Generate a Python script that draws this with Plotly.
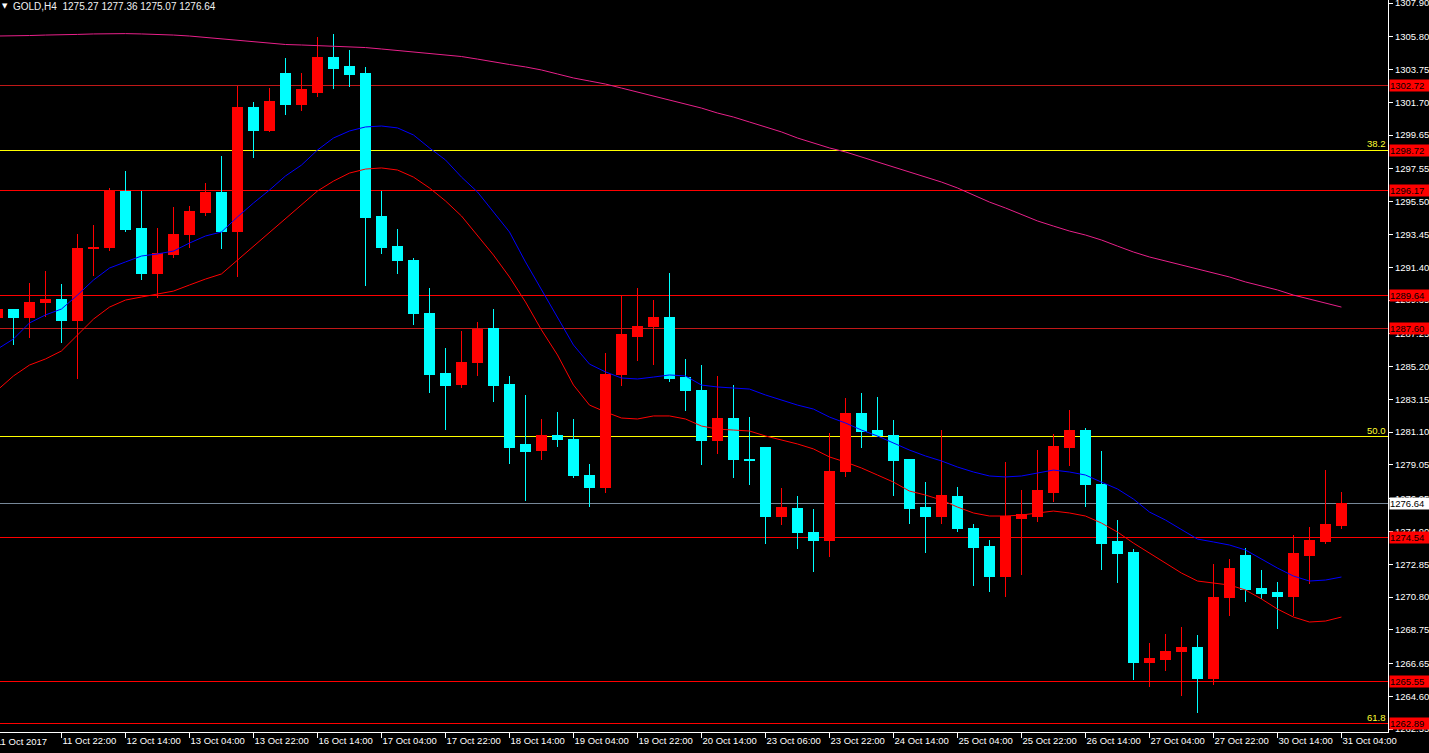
import plotly.graph_objects as go

# ---------------- data ----------------
candle_idx = list(range(85))
opens = [1288.24, 1288.73, 1288.24, 1289.18, 1289.41, 1288.06, 1292.54, 1292.66, 1296.16, 1293.79,
         1290.98, 1292.17, 1293.42, 1294.79, 1296.04, 1293.66, 1301.40, 1299.91, 1303.47, 1301.59,
         1302.34, 1304.47, 1303.91, 1303.47, 1294.54, 1292.72, 1291.85, 1288.54, 1284.79, 1284.10,
         1285.42, 1287.60, 1284.10, 1280.30, 1279.98, 1280.86, 1280.67, 1278.42, 1277.67, 1284.67,
         1287.10, 1287.67, 1288.23, 1284.54, 1283.73, 1280.55, 1281.92, 1279.42, 1280.17, 1275.86,
         1276.36, 1274.86, 1274.36, 1278.61, 1282.29, 1281.23, 1280.92, 1279.36, 1276.42, 1275.80,
         1277.11, 1275.11, 1273.98, 1272.11, 1275.73, 1275.86, 1277.36, 1280.17, 1281.23, 1277.86,
         1274.24, 1273.61, 1266.74, 1266.87, 1267.37, 1267.62, 1265.74, 1270.74, 1273.42, 1271.36,
         1271.11, 1270.86, 1273.42, 1274.24, 1275.27]
highs = [1289.04, 1288.79, 1290.41, 1291.16, 1290.35, 1293.48, 1294.04, 1296.35, 1297.40, 1296.16,
         1293.85, 1295.16, 1295.23, 1296.66, 1298.35, 1302.72, 1301.72, 1302.59, 1304.47, 1303.53,
         1305.78, 1305.97, 1304.97, 1303.91, 1296.16, 1293.79, 1291.98, 1290.10, 1286.35, 1287.42,
         1287.98, 1288.79, 1284.60, 1283.42, 1281.92, 1282.36, 1281.92, 1279.11, 1286.04, 1289.60,
         1290.10, 1289.35, 1291.04, 1285.67, 1285.29, 1284.60, 1284.04, 1282.04, 1280.17, 1277.61,
         1277.11, 1276.30, 1281.04, 1283.23, 1283.54, 1283.29, 1281.86, 1279.42, 1277.98, 1281.23,
         1277.67, 1275.36, 1274.36, 1279.23, 1277.48, 1279.98, 1280.98, 1282.48, 1281.36, 1279.92,
         1275.61, 1273.80, 1267.93, 1268.49, 1268.93, 1268.43, 1272.86, 1273.17, 1273.86, 1272.49,
         1271.74, 1274.67, 1275.17, 1278.73, 1277.36]
lows = [1287.98, 1286.54, 1287.00, 1288.31, 1286.68, 1284.43, 1290.85, 1292.41, 1293.60, 1290.60,
        1289.48, 1291.98, 1292.60, 1294.60, 1292.54, 1290.79, 1298.22, 1299.85, 1300.91, 1301.16,
        1302.03, 1302.53, 1302.66, 1290.23, 1292.23, 1290.98, 1287.79, 1283.54, 1281.23, 1283.85,
        1284.60, 1282.98, 1279.11, 1276.80, 1279.36, 1280.17, 1278.23, 1276.42, 1277.30, 1283.98,
        1285.54, 1285.29, 1284.23, 1282.42, 1279.05, 1279.73, 1278.23, 1277.80, 1274.11, 1275.30,
        1273.80, 1272.36, 1273.30, 1278.30, 1280.11, 1280.80, 1277.11, 1275.36, 1273.55, 1275.36,
        1274.86, 1271.49, 1271.11, 1270.80, 1272.17, 1275.49, 1276.73, 1278.98, 1276.42, 1272.49,
        1271.68, 1265.62, 1265.18, 1266.18, 1264.62, 1263.56, 1265.31, 1269.62, 1270.49, 1270.68,
        1268.80, 1269.62, 1271.61, 1274.11, 1275.07]
closes = [1288.73, 1288.24, 1289.22, 1289.41, 1288.06, 1292.54, 1292.66, 1296.22, 1293.73, 1290.98,
          1292.23, 1293.42, 1294.91, 1296.04, 1293.66, 1301.40, 1299.91, 1301.78, 1301.59, 1302.47,
          1304.47, 1303.84, 1303.41, 1294.48, 1292.66, 1291.79, 1288.48, 1284.67, 1284.04, 1285.48,
          1287.54, 1284.04, 1280.17, 1279.92, 1280.86, 1280.61, 1278.36, 1277.67, 1284.73, 1287.17,
          1287.67, 1288.29, 1284.48, 1283.67, 1280.55, 1281.92, 1279.36, 1279.30, 1275.86, 1276.42,
          1274.80, 1274.30, 1278.67, 1282.29, 1281.11, 1280.92, 1279.30, 1276.36, 1275.80, 1277.17,
          1275.05, 1273.92, 1272.11, 1275.86, 1275.98, 1277.48, 1280.23, 1281.23, 1277.80, 1274.17,
          1273.55, 1266.74, 1266.93, 1267.37, 1267.62, 1265.74, 1270.80, 1272.61, 1271.30, 1271.05,
          1270.86, 1273.49, 1274.30, 1275.36, 1276.64]

ma_blue = [1286.29, 1286.92, 1287.92, 1288.42, 1288.79, 1289.66, 1290.60, 1291.35, 1291.73, 1292.10,
           1292.23, 1292.41, 1292.91, 1293.35, 1293.60, 1294.54, 1295.41, 1296.22, 1297.10, 1297.78,
           1298.72, 1299.47, 1299.91, 1300.16, 1300.22, 1300.10, 1299.66, 1298.85, 1298.10, 1297.03,
           1296.10, 1294.85, 1293.60, 1291.73, 1289.98, 1288.23, 1286.54, 1285.35, 1284.86, 1284.48,
           1284.42, 1284.54, 1284.67, 1284.61, 1284.04, 1283.92, 1283.86, 1283.79, 1283.42, 1283.11,
           1282.79, 1282.54, 1282.04, 1281.67, 1281.23, 1280.86, 1280.42, 1279.98, 1279.61, 1279.30,
           1278.92, 1278.61, 1278.36, 1278.30, 1278.36, 1278.55, 1278.73, 1278.61, 1278.42, 1277.98,
           1277.55, 1276.92, 1276.11, 1275.61, 1274.99, 1274.42, 1274.24, 1274.05, 1273.74, 1273.17,
           1272.61, 1272.11, 1271.80, 1271.86, 1272.05]
ma_red = [1283.73, 1284.61, 1285.29, 1285.67, 1286.17, 1287.17, 1288.16, 1288.91, 1289.35, 1289.54,
          1289.73, 1289.91, 1290.29, 1290.66, 1290.98, 1291.85, 1292.66, 1293.54, 1294.41, 1295.29,
          1296.16, 1296.78, 1297.28, 1297.53, 1297.60, 1297.47, 1297.03, 1296.35, 1295.54, 1294.60,
          1293.41, 1292.16, 1290.79, 1289.23, 1287.48, 1285.92, 1284.04, 1282.79, 1282.36, 1281.98,
          1281.92, 1282.11, 1282.11, 1281.92, 1281.48, 1281.29, 1281.23, 1281.17, 1280.86, 1280.61,
          1280.36, 1280.05, 1279.55, 1279.23, 1278.86, 1278.42, 1277.98, 1277.42, 1277.17, 1276.86,
          1276.42, 1276.05, 1275.86, 1275.86, 1275.92, 1276.05, 1276.17, 1276.05, 1275.86, 1275.42,
          1274.86, 1274.17, 1273.55, 1272.93, 1272.30, 1271.80, 1271.68, 1271.55, 1271.24, 1270.68,
          1270.05, 1269.55, 1269.24, 1269.30, 1269.55]
ma_pink = [1305.84, 1305.84, 1305.87, 1305.90, 1305.90, 1305.94, 1305.97, 1305.99, 1305.99, 1305.97,
           1305.95, 1305.90, 1305.84, 1305.75, 1305.65, 1305.59, 1305.47, 1305.40, 1305.31, 1305.28,
           1305.24, 1305.22, 1305.17, 1305.12, 1305.03, 1304.94, 1304.84, 1304.78, 1304.69, 1304.56,
           1304.40, 1304.22, 1304.06, 1303.91, 1303.72, 1303.47, 1303.22, 1303.03, 1302.84, 1302.59,
           1302.34, 1302.09, 1301.84, 1301.59, 1301.34, 1301.03, 1300.78, 1300.47, 1300.16, 1299.85,
           1299.47, 1299.16, 1298.85, 1298.60, 1298.28, 1297.97, 1297.66, 1297.35, 1297.03, 1296.72,
           1296.35, 1295.91, 1295.47, 1295.10, 1294.72, 1294.29, 1293.97, 1293.66, 1293.41, 1293.10,
           1292.72, 1292.35, 1292.04, 1291.79, 1291.54, 1291.29, 1291.04, 1290.79, 1290.48, 1290.23,
           1289.98, 1289.66, 1289.41, 1289.16, 1288.91]

first_label = "11 Oct 2017"
time_tick_idx = list(range(4, 85, 4))
time_tick_text = ["11 Oct 22:00", "12 Oct 14:00", "13 Oct 04:00", "13 Oct 22:00", "16 Oct 14:00",
                  "17 Oct 04:00", "17 Oct 22:00", "18 Oct 14:00", "19 Oct 04:00", "19 Oct 22:00",
                  "20 Oct 14:00", "23 Oct 06:00", "23 Oct 22:00", "24 Oct 14:00", "25 Oct 04:00",
                  "25 Oct 22:00", "26 Oct 14:00", "27 Oct 04:00", "27 Oct 22:00", "30 Oct 14:00",
                  "31 Oct 04:00"]
price_ticks = [1307.90, 1305.80, 1303.75, 1301.70, 1299.65, 1297.55, 1295.50, 1293.45, 1291.40,
               1289.35, 1287.25, 1285.20, 1283.15, 1281.10, 1279.05, 1276.95, 1274.90, 1272.85,
               1270.80, 1268.75, 1266.65, 1264.60, 1262.55]

bright_red_levels = [1296.17, 1289.64, 1274.54, 1265.55, 1262.89]
dim_red_levels = [1302.72, 1287.60]
boxed_levels = [1302.72, 1298.72, 1296.17, 1289.64, 1287.60, 1274.54, 1265.55, 1262.89]
fib_levels = [1298.72, 1280.80, 1262.89]
fib_names = ["38.2", "50.0", "61.8"]
yellow_levels = [1298.72, 1280.80]
last_price = 1276.64
title_text = "GOLD,H4  1275.27 1277.36 1275.07 1276.64"

# ---------------- styling ----------------
FONT = "Liberation Sans"
FS = 9.5
CYAN = "#00ffff"
RED = "#ff0000"

fig = go.Figure()

fig.add_trace(go.Scatter(x=candle_idx, y=ma_pink, mode="lines",
                         line=dict(color="#e8208a", width=1), hoverinfo="skip"))
fig.add_trace(go.Scatter(x=candle_idx, y=ma_blue, mode="lines",
                         line=dict(color="#0000ff", width=1), hoverinfo="skip"))
fig.add_trace(go.Scatter(x=candle_idx, y=ma_red, mode="lines",
                         line=dict(color="#ff0000", width=1), hoverinfo="skip"))

fig.add_trace(go.Candlestick(
    x=candle_idx, open=opens, high=highs, low=lows, close=closes,
    increasing=dict(line=dict(color=RED, width=1), fillcolor=RED),
    decreasing=dict(line=dict(color=CYAN, width=1), fillcolor=CYAN),
    whiskerwidth=0, hoverinfo="skip"))

shapes = []
for lv in dim_red_levels:
    shapes.append(dict(type="line", xref="paper", x0=0, x1=1, yref="y", y0=lv, y1=lv,
                       line=dict(color="#c01818", width=1), layer="below"))
for lv in bright_red_levels:
    shapes.append(dict(type="line", xref="paper", x0=0, x1=1, yref="y", y0=lv, y1=lv,
                       line=dict(color=RED, width=1), layer="below"))
for lv in yellow_levels:
    shapes.append(dict(type="line", xref="paper", x0=0, x1=1, yref="y", y0=lv, y1=lv,
                       line=dict(color="#ffff00", width=1), layer="below"))
shapes.append(dict(type="line", xref="paper", x0=0, x1=1, yref="y", y0=last_price, y1=last_price,
                   line=dict(color="#778899", width=1), layer="below"))

annotations = []
for lv in boxed_levels:
    annotations.append(dict(x=1, xref="paper", xanchor="left", xshift=1, y=lv, yref="y",
                            yanchor="middle", text=f"{lv:.2f}", showarrow=False,
                            font=dict(family=FONT, size=FS, color="black"),
                            bgcolor=RED, borderpad=0, width=42, align="left"))
annotations.append(dict(x=1, xref="paper", xanchor="left", xshift=1, y=last_price, yref="y",
                        yanchor="middle", text=f"{last_price:.2f}", showarrow=False,
                        font=dict(family=FONT, size=FS, color="black"),
                        bgcolor="white", borderpad=0, width=42, align="left"))
for lv, nm in zip(fib_levels, fib_names):
    annotations.append(dict(x=1, xref="paper", xanchor="right", xshift=-1, y=lv, yref="y",
                            yanchor="bottom", text=nm, showarrow=False,
                            font=dict(family=FONT, size=FS, color="#ffff33"), borderpad=0))
annotations.append(dict(x=0, xref="paper", xanchor="left", xshift=-5, y=0, yref="paper",
                        yanchor="top", yshift=-3, text=first_label, showarrow=False,
                        font=dict(family=FONT, size=FS, color="white"), borderpad=0))
annotations.append(dict(x=0, xref="paper", xanchor="left", xshift=1, y=1, yref="paper",
                        yanchor="top", yshift=-1, text="▼", showarrow=False,
                        font=dict(family="DejaVu Sans", size=7, color="white"), borderpad=0))
annotations.append(dict(x=0, xref="paper", xanchor="left", xshift=12, y=1, yref="paper",
                        yanchor="top", yshift=0, text=title_text, showarrow=False,
                        font=dict(family=FONT, size=FS + 0.5, color="#f0f0f0"), borderpad=0))

fig.update_layout(
    width=1429, height=753,
    margin=dict(l=0, r=41, t=0, b=21, autoexpand=False),
    paper_bgcolor="black", plot_bgcolor="black",
    showlegend=False, hovermode=False,
    boxgap=0.33, boxgroupgap=0,
    shapes=shapes, annotations=annotations,
    xaxis=dict(range=[0.156, 86.91], tickmode="array", tickvals=time_tick_idx,
               ticktext=time_tick_text, ticks="outside", ticklen=5, tickcolor="white",
               tickwidth=1, showline=True, linecolor="white", linewidth=1,
               showgrid=False, zeroline=False, ticklabelposition="outside right",
               ticklabeloverflow="allow", automargin=False,
               tickfont=dict(family=FONT, size=FS, color="white"),
               rangeslider=dict(visible=False), fixedrange=True),
    yaxis=dict(side="right", range=[1262.37, 1308.09], tickmode="array",
               tickvals=price_ticks, ticktext=[f"{v:.2f}" for v in price_ticks],
               ticks="outside", ticklen=4, tickcolor="white", tickwidth=1,
               showline=True, linecolor="white", linewidth=1,
               showgrid=False, zeroline=False, ticklabeloverflow="allow", automargin=False,
               tickfont=dict(family=FONT, size=FS, color="white"), fixedrange=True),
)

post = (
    "document.body.style.margin='0';"
    "document.body.style.overflow='hidden';"
    "document.body.style.background='black';"
    "document.querySelectorAll('.shapelayer path, .boxlayer path').forEach(function(p){"
    "p.style.shapeRendering='crispEdges';});"
)
fig.write_html("out.html", config={"displayModeBar": False}, post_script=post)
